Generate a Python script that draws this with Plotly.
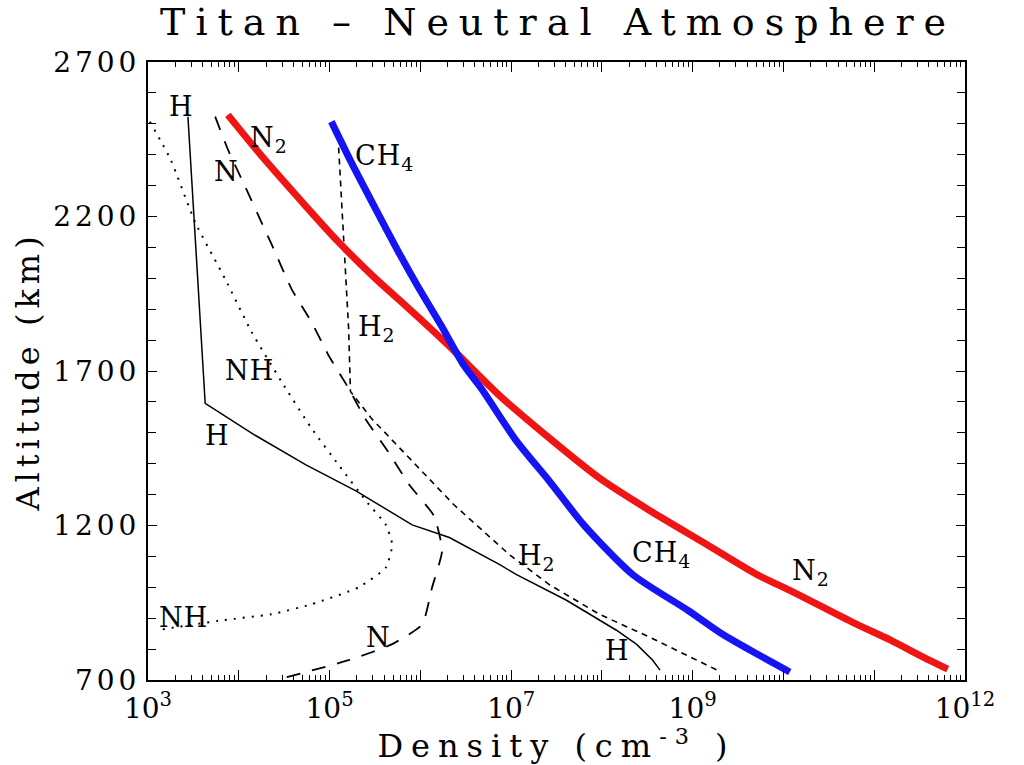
import numpy as np
import plotly.graph_objects as go

# ---- data (log10 density in cm^-3, altitude in km) ----
n2_logn = [3.88, 4.22, 4.74, 5.10, 5.51, 5.84, 6.15, 6.37, 6.87, 7.42, 7.97, 8.53, 9.16, 9.71,
           10.07, 10.44, 10.81, 11.18, 11.54, 11.81]
n2_alt = [2529, 2407, 2233, 2117, 1998, 1911, 1827, 1766, 1621, 1483, 1354, 1248, 1138, 1041,
          990, 935, 880, 829, 774, 735]

ch4_logn = [5.02, 5.24, 5.51, 5.76, 5.97, 6.23, 6.48, 6.67, 7.06, 7.42, 7.80, 8.34, 8.95, 9.33, 9.71, 10.07]
ch4_alt = [2507, 2375, 2223, 2085, 1975, 1847, 1718, 1644, 1473, 1344, 1202, 1041, 925, 848, 784, 726]

h2_logn = [5.10, 5.16, 5.21, 5.23, 5.46, 6.37, 6.98, 7.42, 7.97, 8.53, 9.27]
h2_alt = [2423, 2095, 1837, 1634, 1547, 1267, 1106, 1009, 913, 838, 732]

h_logn = [3.44, 3.63, 4.18, 4.74, 5.29, 5.91, 6.32, 6.87, 7.06, 7.61, 8.16, 8.38, 8.56, 8.64]
h_alt = [2523, 1595, 1492, 1396, 1312, 1202, 1161, 1074, 1041, 958, 861, 816, 764, 732]

nh_logn = [3.02, 3.25, 3.52, 3.85, 4.14, 4.47, 4.80, 5.10, 5.40, 5.62, 5.69, 5.62, 5.32, 4.80, 4.36, 3.81, 3.09]
nh_alt = [2507, 2384, 2181, 1998, 1827, 1666, 1515, 1396, 1280, 1202, 1138, 1064, 1000, 945, 913, 893, 861]

n_logn = [3.74, 3.88, 4.07, 4.25, 4.40, 4.58, 4.80, 4.99, 5.21, 5.39, 5.65, 5.88, 6.15, 6.24, 6.13, 6.02, 5.69, 5.21, 4.49]
n_alt = [2523, 2417, 2297, 2181, 2085, 1966, 1859, 1750, 1644, 1547, 1437, 1331, 1231, 1119, 1000, 880, 816, 764, 706]

# curve labels: (text, log10 density, altitude)
labels = [
    ("H", 3.37, 2555), ("N<sub>2</sub>", 4.33, 2449), ("N", 3.86, 2346),
    ("CH<sub>4</sub>", 5.60, 2391), ("H<sub>2</sub>", 5.52, 1837), ("NH", 4.12, 1702),
    ("H", 3.77, 1492), ("H<sub>2</sub>", 7.29, 1096), ("CH<sub>4</sub>", 8.66, 1106),
    ("N<sub>2</sub>", 10.30, 1048), ("NH", 3.39, 903), ("N", 5.54, 838), ("H", 8.17, 797),
]

x_tickvals = [1e3, 1e4, 1e5, 1e6, 1e7, 1e8, 1e9, 1e10, 1e11, 1e12]
x_ticktext = ["10<sup>3</sup>", "", "10<sup>5</sup>", "", "10<sup>7</sup>", "", "10<sup>9</sup>", "", "", "10<sup>12</sup>"]
y_tickvals = [700, 1200, 1700, 2200, 2700]
y_ticktext = ["700", "1200", "1700", "2200", "2700"]

FONT = "DejaVu Serif"

def spaced(t, px):
    return '<span style="letter-spacing:%dpx">%s</span>' % (px, t)

fig = go.Figure()

def add(logn, alt, color, width, dash="solid", shape="linear", smoothing=0.5):
    fig.add_trace(go.Scatter(
        x=10 ** np.array(logn), y=alt, mode="lines",
        line=dict(color=color, width=width, dash=dash, shape=shape, smoothing=smoothing),
        showlegend=False, hoverinfo="skip"))

add(nh_logn, nh_alt, "black", 2, "2px,7px", "spline")
add(n_logn, n_alt, "black", 1.8, "14px,12px", "spline")
add(h2_logn, h2_alt, "black", 1.6, "6px,5px")
add(h_logn, h_alt, "black", 1.5)
add(n2_logn, n2_alt, "#f01414", 7, shape="spline", smoothing=0.7)
add(ch4_logn, ch4_alt, "#1414f5", 7, shape="spline", smoothing=0.7)

for txt, lx, ly in labels:
    fig.add_annotation(x=lx, y=ly, text=spaced(txt, 1), showarrow=False,
                       font=dict(family=FONT, size=27, color="black"))

fig.update_layout(
    width=1024, height=765,
    margin=dict(l=148, r=59, t=62, b=82),
    paper_bgcolor="white", plot_bgcolor="white",
    title=dict(text=spaced("Titan \u2013 Neutral Atmosphere", 10),
               x=0.545, xanchor="center", y=0.972, yanchor="middle",
               font=dict(family=FONT, size=38, color="black")),
)

fig.update_xaxes(
    type="log", range=[3, 12],
    tickmode="array", tickvals=x_tickvals, ticktext=x_ticktext,
    ticks="inside", ticklen=10, tickwidth=1.2, tickcolor="black",
    minor=dict(dtick="D1", ticks="inside", ticklen=5, tickcolor="black", showgrid=False),
    showline=True, linecolor="black", linewidth=2, mirror="ticks",
    showgrid=False, zeroline=False, ticklabelstandoff=2,
    tickfont=dict(family=FONT, size=28, color="black"),
    title=dict(text=spaced("Density (cm<sup>-3</sup> )", 8),
               font=dict(family=FONT, size=32, color="black"), standoff=6),
)
fig.update_yaxes(
    range=[700, 2700], tickmode="array", tickvals=y_tickvals,
    ticktext=[spaced(t, 4) for t in y_ticktext],
    ticks="inside", ticklen=9, tickwidth=1.2, tickcolor="black",
    minor=dict(dtick=100, ticks="inside", ticklen=8, tickcolor="black", showgrid=False),
    showline=True, linecolor="black", linewidth=2, mirror="ticks",
    showgrid=False, zeroline=False,
    tickfont=dict(family=FONT, size=28, color="black"),
    title=dict(text=spaced("Altitude (km)", 5),
               font=dict(family=FONT, size=32, color="black"), standoff=4),
)

fig.write_html("out.html")
